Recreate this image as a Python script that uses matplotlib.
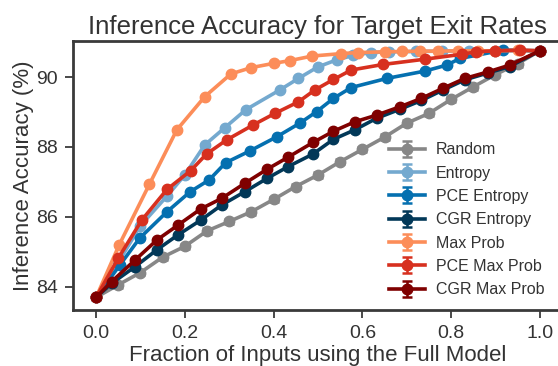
import matplotlib
matplotlib.use("Agg")
import matplotlib.pyplot as plt

title = "Inference Accuracy for Target Exit Rates"
xlabel = "Fraction of Inputs using the Full Model"
ylabel = "Inference Accuracy (%)"

labels = ["Random", "Entropy", "PCE Entropy", "CGR Entropy",
          "Max Prob", "PCE Max Prob", "CGR Max Prob"]
colors = ["#878787", "#74a9cf", "#0570b0", "#023858",
          "#fc8d59", "#d7301f", "#7f0000"]

random_x = [0.0, 0.05, 0.1, 0.15, 0.2, 0.25, 0.3, 0.35, 0.4, 0.45, 0.5,
            0.55, 0.6, 0.65, 0.7, 0.75, 0.8, 0.85, 0.9, 0.95, 1.0]
random_y = [83.7, 84.06, 84.41, 84.85, 85.16, 85.6, 85.87, 86.15, 86.5, 86.87, 87.2,
            87.58, 87.93, 88.28, 88.68, 88.96, 89.36, 89.72, 90.07, 90.38, 90.75]
random_err = [0.08] * 21

entropy_x = [0.0, 0.05, 0.1, 0.16, 0.2, 0.245, 0.29, 0.338, 0.414, 0.456, 0.5,
             0.542, 0.58, 0.62, 0.66, 0.72, 0.78, 0.84, 0.9, 1.0]
entropy_y = [83.7, 84.7, 85.75, 86.6, 87.2, 88.06, 88.55, 89.07, 89.63, 89.96, 90.29,
             90.49, 90.62, 90.7, 90.72, 90.73, 90.74, 90.75, 90.75, 90.75]

pce_ent_x = [0.0, 0.054, 0.098, 0.16, 0.212, 0.255, 0.292, 0.347, 0.407, 0.459, 0.497,
             0.535, 0.575, 0.655, 0.741, 0.79, 0.82, 0.917, 1.0]
pce_ent_y = [83.7, 84.63, 85.39, 86.15, 86.72, 87.06, 87.55, 87.89, 88.29, 88.68, 89.01,
             89.39, 89.7, 89.96, 90.17, 90.34, 90.53, 90.77, 90.75]

cgr_ent_x = [0.0, 0.035, 0.088, 0.137, 0.185, 0.236, 0.283, 0.335, 0.385, 0.433, 0.489,
             0.535, 0.583, 0.632, 0.685, 0.733, 0.782, 0.831, 0.884, 0.932, 1.0]
cgr_ent_y = [83.7, 84.1, 84.58, 85.06, 85.49, 85.91, 86.34, 86.72, 87.1, 87.44, 87.8,
             88.22, 88.49, 88.82, 89.08, 89.33, 89.63, 89.92, 90.12, 90.3, 90.75]

maxp_x = [0.0, 0.052, 0.12, 0.182, 0.245, 0.304, 0.35, 0.4, 0.437, 0.487, 0.553,
          0.59, 0.65, 0.69, 0.73, 0.77, 0.816, 0.86, 0.9, 0.95, 1.0]
maxp_y = [83.7, 85.2, 86.93, 88.49, 89.44, 90.09, 90.27, 90.39, 90.47, 90.6, 90.67,
          90.7, 90.72, 90.73, 90.74, 90.74, 90.75, 90.75, 90.75, 90.76, 90.75]

pce_maxp_x = [0.0, 0.05, 0.103, 0.16, 0.213, 0.249, 0.294, 0.354, 0.403, 0.456, 0.493,
              0.535, 0.575, 0.647, 0.741, 0.824, 0.857, 0.9, 0.955, 1.0]
pce_maxp_y = [83.7, 84.82, 85.91, 86.79, 87.32, 87.8, 88.2, 88.63, 88.96, 89.29, 89.63,
              89.93, 90.2, 90.36, 90.51, 90.65, 90.72, 90.75, 90.77, 90.75]

cgr_maxp_x = [0.0, 0.035, 0.088, 0.137, 0.185, 0.236, 0.283, 0.335, 0.385, 0.433, 0.489,
              0.535, 0.583, 0.632, 0.685, 0.733, 0.782, 0.831, 0.884, 0.932, 1.0]
cgr_maxp_y = [83.7, 84.15, 84.77, 85.34, 85.77, 86.23, 86.53, 86.96, 87.36, 87.71, 88.13,
              88.45, 88.72, 88.91, 89.15, 89.39, 89.68, 89.96, 90.15, 90.34, 90.75]

xs = [random_x, entropy_x, pce_ent_x, cgr_ent_x, maxp_x, pce_maxp_x, cgr_maxp_x]
ys = [random_y, entropy_y, pce_ent_y, cgr_ent_y, maxp_y, pce_maxp_y, cgr_maxp_y]
errs = [random_err, None, None, None, None, None, None]

xticks = [0.0, 0.2, 0.4, 0.6, 0.8, 1.0]
yticks = [84, 86, 88, 90]

plt.rcParams["font.family"] = ["Liberation Sans", "DejaVu Sans"]
text_color = "#333333"

fig = plt.figure(figsize=(5.58, 3.66), dpi=100)
ax = fig.add_axes([73 / 558, 1 - 310 / 366, (562 - 73) / 558, (310 - 41) / 366])

for x, y, e, lab, c in zip(xs, ys, errs, labels, colors):
    ax.errorbar(x, y, yerr=e if e is not None else [0.02] * len(y), color=c,
                marker="o", markersize=7.5, linewidth=2.6, capsize=3.5,
                capthick=1.8, elinewidth=1.8, label=lab)

ax.set_xlim(-0.052, 1.05)
ax.set_ylim(83.34, 91.03)
ax.set_xticks(xticks)
ax.set_xticklabels([f"{t:.1f}" for t in xticks])
ax.set_yticks(yticks)

for s in ax.spines.values():
    s.set_linewidth(2.0)
    s.set_color("#3a3a3a")
ax.tick_params(axis="both", direction="out", length=6, width=1.3,
               color="#3a3a3a", labelsize=14, labelcolor=text_color, pad=5)

ax.set_title(title, fontsize=18.5, color=text_color, pad=5)
ax.set_xlabel(xlabel, fontsize=16, color=text_color, labelpad=2)
ax.set_ylabel(ylabel, fontsize=16, color=text_color, labelpad=1.5)

leg = ax.legend(loc="lower right", bbox_to_anchor=(0.99, 0.0), frameon=False,
                fontsize=11.5, handlelength=2.25, labelspacing=0.52,
                handletextpad=0.7, borderaxespad=0.4)
for t in leg.get_texts():
    t.set_color(text_color)

fig.savefig("out.png", dpi=100)
